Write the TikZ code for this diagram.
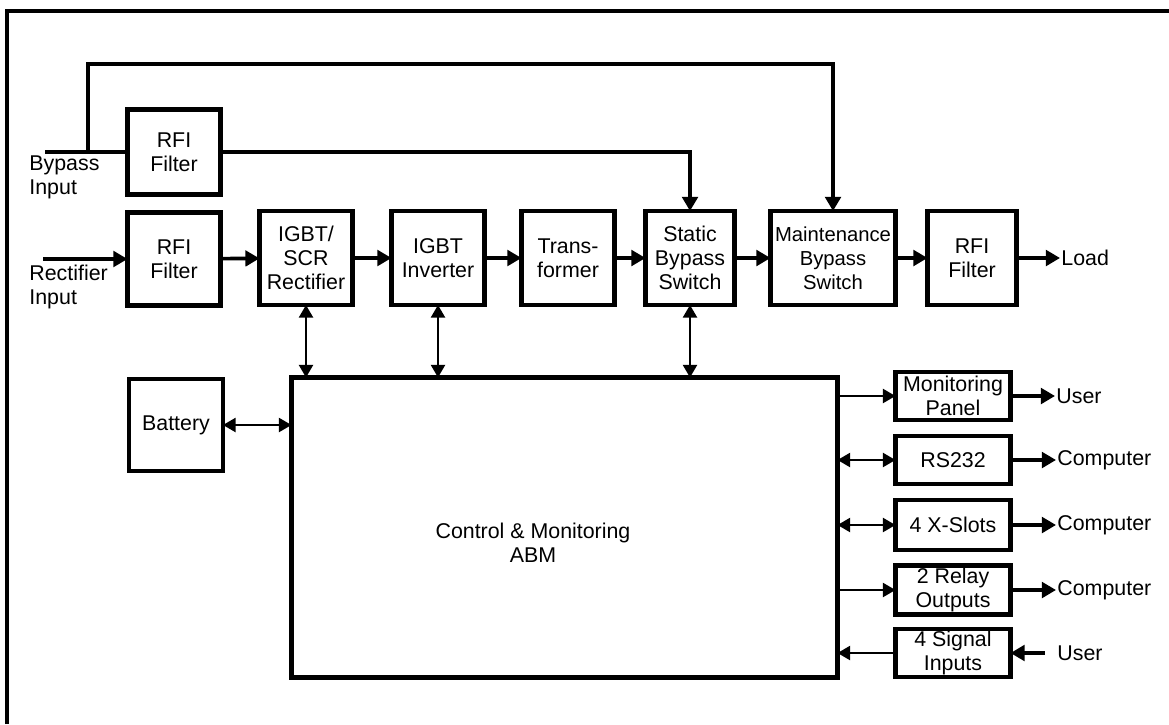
\documentclass[tikz,border=0pt]{standalone}
\usepackage{fontspec}
\setmainfont{Liberation Sans}
\usetikzlibrary{arrows.meta}

\begin{document}
\begin{tikzpicture}[x=0.025cm, y=-0.025cm,
    every node/.style={font=\fontsize{15.2}{17}\selectfont, align=center},
    blk/.style={draw, line width=3.3pt, inner sep=0pt, outer sep=0pt},
    sz/.style 2 args={minimum width=#1*0.025cm, minimum height=#2*0.025cm},
    tag/.style={anchor=west, inner sep=1pt, outer sep=0pt},
    wire/.style={line width=2.6pt},
    flow/.style={line width=2.6pt, -{Triangle[length=10pt,width=11pt]}},
    thin/.style={line width=1.6pt, -{Triangle[length=9pt,width=10pt]}},
    both/.style={line width=1.6pt, {Triangle[length=9pt,width=10pt]}-{Triangle[length=9pt,width=10pt]}}]
  \useasboundingbox (0,0) rectangle (1169,724);
  \draw[line width=2.6pt] (7,724) -- (7,11) -- (1169,11);

  % main power path
  \node[blk, sz={93}{85}] (rfia) at (174,152) {RFI\\Filter};
  \node[blk, sz={93}{93}] (rfib) at (174,259) {RFI\\Filter};
  \node[blk, sz={93}{94}] (rect) at (306,258) {IGBT/\\SCR\\Rectifier};
  \node[blk, sz={93}{94}] (inv) at (438,258) {IGBT\\Inverter};
  \node[blk, sz={93}{94}] (trans) at (568,258) {Trans-\\former};
  \node[blk, sz={89}{94}] (sbs) at (690,258) {Static\\Bypass\\Switch};
  \node[blk, sz={125}{94}, font=\fontsize{14.4}{17}\selectfont] (mbs) at (833,258) {Maintenance\\Bypass\\Switch};
  \node[blk, sz={89}{94}] (rfic) at (972,258) {RFI\\Filter};
  \node[tag] (load) at (1060,258) {Load};

  \node[tag, align=left] (bpin) at (28,177) {Bypass\\Input};
  \node[tag, align=left] (rcin) at (28,287) {Rectifier\\Input};
  \coordinate (bpend) at (45,152);
  \coordinate (rcend) at (43,259);
  \coordinate (tap) at (88,152);
  \coordinate (ridge) at (88,64);

  \draw[wire] (bpend) -- (rfia.west);
  \draw[flow] (tap) -- (ridge) -| (mbs.north);
  \draw[flow] (rfia.east) -| (sbs.north);
  \draw[flow] (rcend) -- (rfib.west);
  \draw[flow] (rfib) -- (rect);
  \draw[flow] (rect) -- (inv);
  \draw[flow] (inv) -- (trans);
  \draw[flow] (trans) -- (sbs);
  \draw[flow] (sbs) -- (mbs);
  \draw[flow] (mbs) -- (rfic);
  \draw[flow] (rfic) -- (load);

  % control part
  \node[blk, sz={546}{300}] (ctrl) at (564.5,527.5) {};
  \node (ctrltxt) at (533,543) {Control \& Monitoring\\ABM};
  \node[blk, sz={94}{92}] (bat) at (176,425) {Battery};

  \draw[both] (rect.south) -- (rect.south |- ctrl.north);
  \draw[both] (inv.south) -- (inv.south |- ctrl.north);
  \draw[both] (sbs.south) -- (sbs.south |- ctrl.north);
  \draw[both] (bat.east) -- (bat.east -| ctrl.west);

  % interfaces
  \node[blk, sz={115}{48}] (mon) at (953,396) {Monitoring\\Panel};
  \node[blk, sz={115}{48}] (rs) at (953,460) {RS232};
  \node[blk, sz={115}{50}] (xs) at (953,525) {4 X-Slots};
  \node[blk, sz={115}{49}] (rel) at (953,590) {2 Relay\\Outputs};
  \node[blk, sz={115}{48}] (sig) at (953,653) {4 Signal\\Inputs};

  \node[tag] (usra) at (1055,396) {User};
  \node[tag] (pca) at (1056,460) {Computer};
  \node[tag] (pcb) at (1056,525) {Computer};
  \node[tag] (pcc) at (1056,590) {Computer};
  \node[tag] (usrb) at (1056,653) {User};

  \draw[thin] (ctrl.east |- mon.west) -- (mon.west);
  \draw[both] (ctrl.east |- rs.west) -- (rs.west);
  \draw[both] (ctrl.east |- xs.west) -- (xs.west);
  \draw[thin] (ctrl.east |- rel.west) -- (rel.west);
  \draw[thin] (sig.west) -- (sig.west -| ctrl.east);

  \draw[flow] (mon) -- (usra);
  \draw[flow] (rs) -- (pca);
  \draw[flow] (xs) -- (pcb);
  \draw[flow] (rel) -- (pcc);
  \draw[flow] ([xshift=-8]usrb.west) -- (sig);
\end{tikzpicture}
\end{document}
